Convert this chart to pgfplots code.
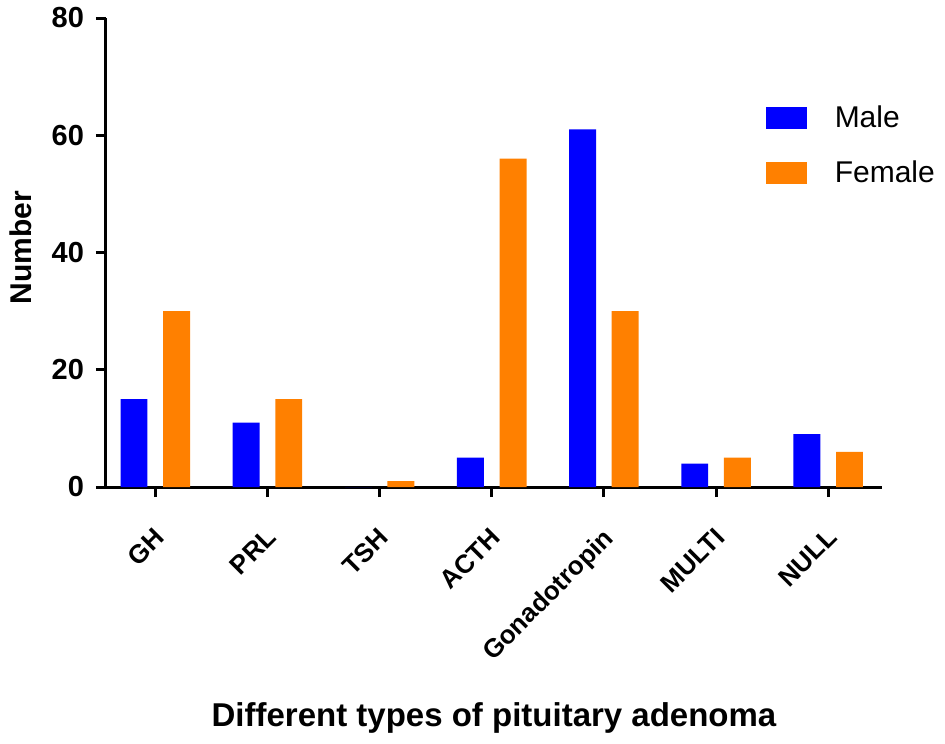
\documentclass[border=0pt]{standalone}
\usepackage{fontspec}
\setmainfont{Liberation Sans}
\usepackage{pgfplots}
\pgfplotsset{compat=1.18}

\definecolor{maleblue}{RGB}{0,0,255}
\definecolor{femaleorange}{RGB}{255,128,0}

\begin{document}
\begin{tikzpicture}
\begin{axis}[
  scale only axis,
  width=388bp, height=234.5bp,
  axis lines*=left,
  axis line style={line width=1.5bp, black},
  xmin=-0.44, xmax=6.48,
  ymin=0, ymax=80,
  ytick={0,20,40,60,80},
  xtick={0,1,2,3,4,5,6},
  xticklabels={GH,PRL,TSH,ACTH,Gonadotropin,MULTI,NULL},
  tick align=outside,
  major tick length=5bp,
  tick style={line width=1.5bp, black},
  /pgf/number format/assume math mode=true,
  yticklabel style={font=\fontsize{14.5bp}{17bp}\selectfont\bfseries, xshift=-2.5bp},
  % shifts are in the rotated frame of the label
  xticklabel style={font=\fontsize{13bp}{16bp}\selectfont\bfseries,
    rotate=45, anchor=north east, inner sep=2bp, xshift=-9.2bp, yshift=-7.4bp},
  xlabel={Different types of pituitary adenoma},
  ylabel={Number},
  xlabel style={font=\fontsize{16.5bp}{19bp}\selectfont\bfseries,
    at={(0.5,0)}, anchor=center, yshift=-115.5bp},
  ylabel style={font=\fontsize{15bp}{18bp}\selectfont\bfseries,
    at={(0,0.51)}, anchor=center, yshift=42.5bp},
  ybar,
  bar width=0.24,
  legend cell align=left,
  legend style={draw=none, fill=none, at={(0.842,0.83)}, anchor=north west,
    font=\fontsize{15bp}{18bp}\selectfont, row sep=11bp,
    /tikz/every odd column/.append style={column sep=12bp}},
  legend image code/.code={\fill[#1] (0bp,-5.5bp) rectangle (20.5bp,5.5bp);},
  clip=false,
]
\addplot[fill=maleblue, draw=none, bar shift=-0.19] coordinates {
  (0,15) (1,11) (2,0) (3,5) (4,61) (5,4) (6,9)
};
\addplot[fill=femaleorange, draw=none, bar shift=0.19] coordinates {
  (0,30) (1,15) (2,1) (3,56) (4,30) (5,5) (6,6)
};
\legend{Male,Female}
\coordinate (O) at (rel axis cs:0,0);
\end{axis}
\path (O) ++(-53bp,-128.5bp) rectangle ++(472.5bp,372bp);
\end{tikzpicture}
\end{document}
